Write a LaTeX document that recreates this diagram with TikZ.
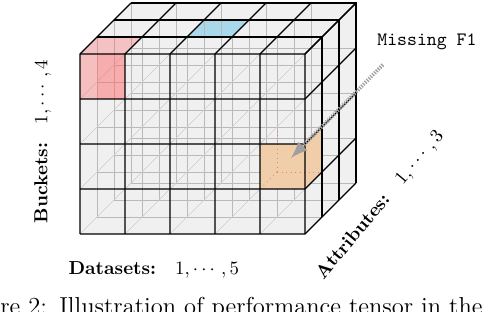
\documentclass[tikz,border=0pt]{standalone}
\usepackage{amsmath, amssymb}
\usepackage{tikz}

\definecolor{cellred}{RGB}{255,102,102}
\definecolor{cellblue}{RGB}{168,216,234}
\definecolor{cellorange}{RGB}{241,206,170}
\definecolor{hiddenpink}{RGB}{236,120,150}

\begin{document}
\begin{tikzpicture}[x={(23.85pt,0pt)}, y={(0pt,23.85pt)}, z={(9pt,9pt)},
    inner/.style={gray!55, line width=0.35pt},
    innerd/.style={gray!40, line width=0.35pt},
    edge/.style={black, line width=0.65pt},
    hidden/.style={hiddenpink, dotted, line width=0.4pt},
    missarrow/.style={gray!75, line width=2pt, dash pattern=on 0.7pt off 0.7pt, -latex}]
        \useasboundingbox (-1.778,-1.733) rectangle (9.111,5.2);

        % Coordinates
        \coordinate (O) at (0,0,0);
        \coordinate (A) at (5,0,0);
        \coordinate (B) at (5,0,3);
        \coordinate (C) at (5,4,3);
        \coordinate (D) at (0,4,3);
        \coordinate (E) at (0,4,0);
        \coordinate (miss) at (6.73,3.76);
        \coordinate (orangec) at (4.5,1.5,0.5);

        % Drawing
        \fill[gray!12] (O) -- (A) -- (B) -- (C) -- (D) -- (E) -- cycle;
        \fill[cellblue] (2,4,1) -- (3,4,1) -- (3,4,2) -- (2,4,2) -- cycle;

        % lines inside the block
        \foreach \z in {1,2,3} {
            \foreach \x in {0,...,5} \draw[inner] (\x,0,\z) -- (\x,4,\z);
            \foreach \y in {0,...,4} \draw[inner] (0,\y,\z) -- (5,\y,\z);
        }
        \foreach \x in {0,...,5}
            \foreach \y in {0,...,4} \draw[innerd] (\x,\y,0) -- (\x,\y,3);

        % red cell
        \fill[cellred, opacity=.35] (0,3,0) -- (1,3,0) -- (1,4,0) -- (0,4,0) -- cycle;
        \fill[cellred, opacity=.2] (0.378,3,0) -- (1,3,0) -- (1,4,0) -- (0.378,4,0) -- cycle;
        \fill[cellred, opacity=.33] (0,4,0) -- (1,4,0) -- (1,4,1) -- (0,4,1) -- cycle;

        % orange cell
        \fill[cellorange] (4,1,0) -- (5,1,0) -- (5,2,0) -- (4,2,0) -- cycle;
        \fill[cellorange] (5,1,0) -- (5,1,1) -- (5,2,1) -- (5,2,0) -- cycle;
        \draw[hidden] (4,1,1) -- (5,1,1);
        \draw[hidden] (4,1,1) -- (4,2,1);
        \draw[hidden] (4,1,1) -- (4,1,0);

        % outer faces
        \foreach \x in {0,...,5} \draw[edge] (\x,0,0) -- (\x,4,0) -- (\x,4,3);
        \foreach \y in {0,...,4} \draw[edge] (0,\y,0) -- (5,\y,0) -- (5,\y,3);
        \foreach \z in {1,2,3} \draw[edge] (0,4,\z) -- (5,4,\z) -- (5,0,\z);

        \draw[missarrow] (miss) -- (orangec);

        \node[font=\ttfamily] (misslabel) at (7.71,4.27) {Missing F1};
        \node[rotate=90] (buckets) at (-0.83,2.05) {\textbf{Buckets:}\quad $1,\cdots,4$};
        \node (datasets) at (1.64,-0.8) {\textbf{Datasets:}\quad $1,\cdots,5$};
        \node[rotate=50] (attrs) at (6.67,0.64) {\textbf{Attributes:}\quad $1,\cdots,3$};
        \node[anchor=base west, inner sep=0pt, font=\fontsize{13}{15}\selectfont] (caption) at (-1.778,-1.778) {re 2:\hspace{6.5pt}Illustration of performance tensor in the};
    \end{tikzpicture}
\end{document}
